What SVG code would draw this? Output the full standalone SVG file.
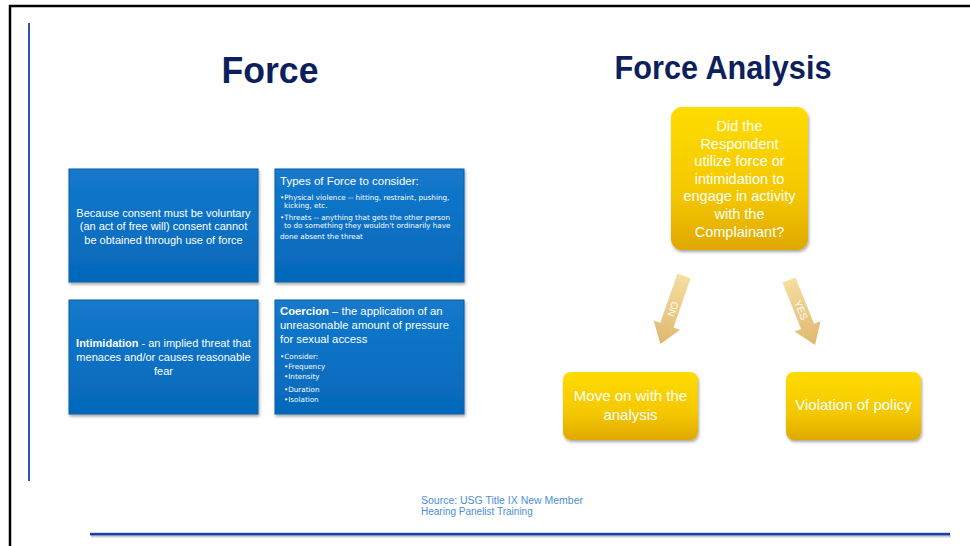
<svg xmlns="http://www.w3.org/2000/svg" width="970" height="546" viewBox="0 0 970 546">
<defs>
<linearGradient id="blueG" x1="0" y1="0" x2="0" y2="1">
<stop offset="0" stop-color="#1479CC"/>
<stop offset="1" stop-color="#0468BA"/>
</linearGradient>
<linearGradient id="goldG" x1="0" y1="0" x2="0" y2="1">
<stop offset="0" stop-color="#FFDC00"/>
<stop offset="0.6" stop-color="#F4C800"/>
<stop offset="1" stop-color="#E0A800"/>
</linearGradient>
<linearGradient id="arrG" x1="0" y1="0" x2="1" y2="0">
<stop offset="0" stop-color="#F5DC9A"/>
<stop offset="1" stop-color="#DDB467"/>
</linearGradient>
<filter id="sh" x="-10%" y="-10%" width="130%" height="130%">
<feDropShadow dx="1" dy="2" stdDeviation="1.5" flood-color="#000" flood-opacity="0.35"/>
</filter>
</defs>
<style>
.bbox{fill:url(#blueG);stroke:#0A5EA6;stroke-width:1}
.gbox{fill:url(#goldG)}
.wt{fill:#FFFFFF;font-family:"Liberation Sans",Arial,sans-serif}
.c{text-anchor:middle}
.sm{fill:#FFFFFF;font-family:"DejaVu Sans",Verdana,sans-serif;font-size:7.2px}
.title{fill:#0D1F5C;font-family:"Liberation Sans",Arial,sans-serif;font-weight:bold;text-anchor:middle}
.arrow{fill:url(#arrG);opacity:0.95}
</style>
<rect width="970" height="546" fill="#FFFFFF"/>
<g id="frame">
<line x1="9" y1="6" x2="970" y2="6" stroke="#000" stroke-width="2.5"/>
<line x1="10" y1="5" x2="10" y2="546" stroke="#000" stroke-width="2.5"/>
<line x1="29" y1="23" x2="29" y2="481" stroke="#2A52B8" stroke-width="2"/>
<rect x="91" y="535" width="860" height="2.5" fill="#BBBBBB" opacity="0.7"/>
<rect x="90" y="532.8" width="860" height="2.6" fill="#1B3FA8"/>
</g>
<text class="title" x="270" y="83" font-size="36" textLength="97" lengthAdjust="spacingAndGlyphs">Force</text>
<text class="title" x="723" y="79" font-size="33" textLength="217" lengthAdjust="spacingAndGlyphs">Force Analysis</text>
<g id="consent">
<rect class="bbox" x="69" y="169" width="189" height="113" filter="url(#sh)"/>
<text class="wt c" font-size="11" x="163.5"><tspan x="163.5" y="217">Because consent must be voluntary</tspan><tspan x="163.5" y="230">(an act of free will)  consent cannot</tspan><tspan x="163.5" y="244">be obtained through use of force</tspan></text>
</g>
<g id="types">
<rect class="bbox" x="275" y="169" width="189" height="113" filter="url(#sh)"/>
<text class="wt" font-size="11.5" x="280" y="185">Types of Force to consider:</text>
<text class="sm"><tspan x="280" y="200">•Physical violence -- hitting, restraint, pushing,</tspan><tspan x="284" y="208">kicking, etc.</tspan><tspan x="280" y="220">•Threats -- anything that gets the other person</tspan><tspan x="284" y="228">to do something  they wouldn't ordinarily have</tspan><tspan x="280" y="239">done absent the threat</tspan></text>
</g>
<g id="intimidation">
<rect class="bbox" x="69" y="300" width="189" height="114" filter="url(#sh)"/>
<text class="wt c" font-size="11"><tspan x="163.5" y="347"><tspan font-weight="bold">Intimidation</tspan> - an implied threat that</tspan><tspan x="163.5" y="361">menaces and/or  causes reasonable</tspan><tspan x="163.5" y="375">fear</tspan></text>
</g>
<g id="coercion">
<rect class="bbox" x="275" y="300" width="189" height="114" filter="url(#sh)"/>
<text class="wt" font-size="11.3"><tspan x="280" y="315"><tspan font-weight="bold">Coercion</tspan> – the application of an</tspan><tspan x="280" y="329">unreasonable amount  of pressure</tspan><tspan x="280" y="343">for sexual access</tspan></text>
<text class="sm"><tspan x="280" y="359">•Consider:</tspan><tspan x="284" y="369">•Frequency</tspan><tspan x="284" y="379">•Intensity</tspan><tspan x="284" y="392">•Duration</tspan><tspan x="284" y="402">•Isolation</tspan></text>
</g>
<g id="question">
<rect class="gbox" x="671" y="107" width="137" height="143" rx="11" filter="url(#sh)"/>
<text class="wt c" font-size="14.5"><tspan x="739.5" y="131">Did the</tspan><tspan x="739.5" y="149">Respondent</tspan><tspan x="739.5" y="166">utilize force or</tspan><tspan x="739.5" y="184">intimidation to</tspan><tspan x="739.5" y="201">engage in activity</tspan><tspan x="739.5" y="219">with the</tspan><tspan x="739.5" y="237">Complainant?</tspan></text>
</g>
<g id="moveon">
<rect class="gbox" x="563" y="372" width="135" height="68" rx="8" filter="url(#sh)"/>
<text class="wt c" font-size="15"><tspan x="630.5" y="401">Move on with the</tspan><tspan x="630.5" y="420">analysis</tspan></text>
</g>
<g id="violation">
<rect class="gbox" x="786" y="372" width="135" height="68" rx="8" filter="url(#sh)"/>
<text class="wt c" font-size="15" x="853.5" y="410">Violation of policy</text>
</g>
<g id="connectors">
<polygon class="arrow" transform="translate(684,276) rotate(109.2)" points="0,-7 52,-7 52,-14 72,0 52,14 52,7 0,7"/>
<polygon class="arrow" transform="translate(789,280) rotate(68.2)" points="0,-7 50,-7 50,-14 70,0 50,14 50,7 0,7"/>
<text class="wt c" font-size="10" transform="translate(673,309) rotate(-70.8)" dy="3.5">NO</text>
<text class="wt c" font-size="10" transform="translate(801,310) rotate(68.2)" dy="3.5">YES</text>
</g>
<g id="source">
<text font-family="'Liberation Sans',Arial,sans-serif" font-size="10" fill="#4A8FD8"><tspan x="421" y="504" textLength="162" lengthAdjust="spacingAndGlyphs">Source: USG Title IX New Member</tspan><tspan x="421" y="515">Hearing Panelist Training</tspan></text>
</g>
</svg>
